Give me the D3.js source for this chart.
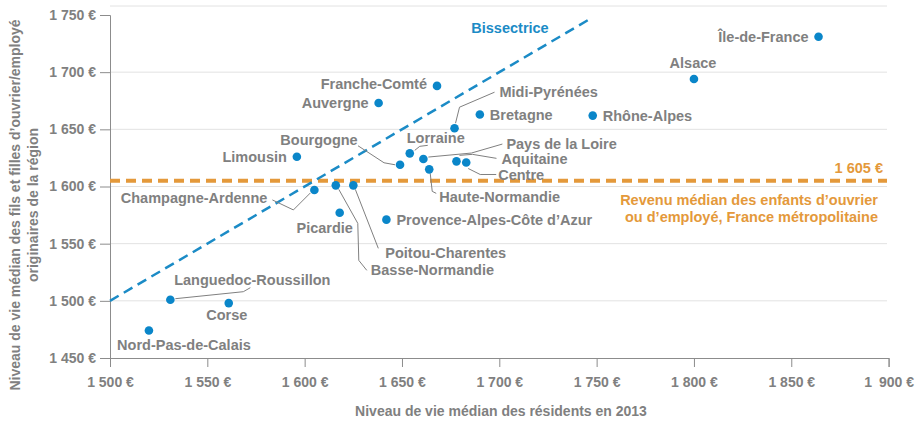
<!DOCTYPE html>
<html>
<head>
<meta charset="utf-8">
<script src="https://cdn.jsdelivr.net/npm/d3@7"></script>
<style>
  body { margin: 0; background: #fff; }
  text { font-family: "Liberation Sans", Arial, sans-serif; font-weight: bold; }
</style>
</head>
<body>
<div id="chart"></div>
<script>
// ---------------- data ----------------
const regions = [
  'Île-de-France', 'Alsace', 'Rhône-Alpes', 'Bretagne', 'Midi-Pyrénées',
  'Franche-Comté', 'Auvergne', 'Limousin', 'Bourgogne', 'Lorraine',
  'Pays de la Loire', 'Haute-Normandie', 'Aquitaine', 'Centre',
  'Champagne-Ardenne', 'Basse-Normandie', 'Poitou-Charentes', 'Picardie',
  'Provence-Alpes-Côte d\u2019Azur', 'Languedoc-Roussillon', 'Corse', 'Nord-Pas-de-Calais'
];
// niveau de vie médian des résidents en 2013
const residentValues = [
  1864, 1800, 1748, 1690, 1677,
  1668, 1638, 1596, 1649, 1654,
  1661, 1664, 1678, 1683,
  1605, 1616, 1625, 1618,
  1642, 1531, 1561, 1520
];
// niveau de vie médian des enfants d'ouvrier/employé originaires de la région
const childValues = [
  1731, 1694, 1662, 1663, 1651,
  1688, 1673, 1626, 1619, 1629,
  1624, 1615, 1622, 1621,
  1597, 1601, 1601, 1577,
  1571, 1501, 1498, 1474
];
const xTicks = [1500, 1550, 1600, 1650, 1700, 1750, 1800, 1850, 1900];
const xTickLabels = ['1 500 €', '1 550 €', '1 600 €', '1 650 €', '1 700 €', '1 750 €', '1 800 €', '1 850 €', '1\u2002900 €'];
const yTicks = [1450, 1500, 1550, 1600, 1650, 1700, 1750];
const yTickLabels = ['1 450 €', '1 500 €', '1 550 €', '1 600 €', '1 650 €', '1 700 €', '1 750 €'];
const gridValues = [1500, 1550, 1600, 1650, 1700];
const bissectrice = [1500, 1747];
const medianValue = 1605;

// label placement (pixel offsets from the point) and leader lines
const labelLayout = {
  'Île-de-France': { a: 'end', dx: -10, dy: 0 },
  'Alsace': { a: 'middle', dx: -1, dy: -16 },
  'Rhône-Alpes': { a: 'start', dx: 10, dy: 0 },
  'Bretagne': { a: 'start', dx: 10, dy: 0 },
  'Midi-Pyrénées': { a: 'start', dx: 45, dy: -36, lead: [[1, -5], [5, -21], [40, -36]] },
  'Franche-Comté': { a: 'end', dx: -10, dy: -2 },
  'Auvergne': { a: 'end', dx: -10, dy: 0 },
  'Limousin': { a: 'end', dx: -10, dy: 0 },
  'Bourgogne': { a: 'middle', dx: -81, dy: -25, lead: [[-5, 0], [-16, -2], [-42, -19]] },
  'Lorraine': { a: 'middle', dx: 26, dy: -15, lead: [[5, -3], [10, -7], [18, -8]] },
  'Pays de la Loire': { a: 'start', dx: 83, dy: -15, lead: [[5, -2], [48, -6], [79, -15]] },
  'Haute-Normandie': { a: 'start', dx: 10, dy: 28, lead: [[1, 4], [3, 22], [7, 24]] },
  'Aquitaine': { a: 'start', dx: 45, dy: -2, lead: [[3, -6], [16, -7], [40, -3]] },
  'Centre': { a: 'start', dx: 32, dy: 12, lead: [[2, 6], [14, 12], [30, 12]] },
  'Champagne-Ardenne': { a: 'end', dx: -47, dy: 8, lead: [[-4, 3], [-21, 20], [-42, 10]] },
  'Basse-Normandie': { a: 'start', dx: 35, dy: 85, lead: [[3, 4], [22, 38], [23, 75], [31, 85]] },
  'Poitou-Charentes': { a: 'start', dx: 32, dy: 68, lead: [[2, 4], [25, 63]] },
  'Picardie': { a: 'middle', dx: -15, dy: 15 },
  'Provence-Alpes-Côte d\u2019Azur': { a: 'start', dx: 10, dy: 0 },
  'Languedoc-Roussillon': { a: 'middle', dx: 82, dy: -20, lead: [[5, -1], [73, -8], [80, -12]] },
  'Corse': { a: 'middle', dx: -2, dy: 12 },
  'Nord-Pas-de-Calais': { a: 'middle', dx: 35, dy: 14 }
};

const colors = {
  text: '#808080',
  axis: '#8c8c8c',
  grid: '#e2e2e2',
  dot: '#0a86c9',
  bis: '#1b8bc6',
  orange: '#e4993b'
};
const fontSize = '14.5px';

const width = 920, height = 429;
const x = d3.scaleLinear().domain([1500, 1900]).range([110, 888.6]);
const y = d3.scaleLinear().domain([1450, 1750]).range([358, 15]);

const svg = d3.select('#chart').append('svg')
  .attr('width', width)
  .attr('height', height);

//------------------ grid ------------------
svg.append('line')
  .attr('x1', x(1500)).attr('x2', 887)
  .attr('y1', 6).attr('y2', 6)
  .attr('stroke', colors.grid);
svg.append('g').selectAll('line')
  .data(gridValues).enter().append('line')
  .attr('x1', x(1500)).attr('x2', 887)
  .attr('y1', d => y(d)).attr('y2', d => y(d))
  .attr('stroke', colors.grid);

//------------------ axes ------------------
const xAxis = d3.axisBottom(x).tickValues(xTicks)
  .tickFormat((d, i) => xTickLabels[i]).tickSize(9).tickPadding(10);
const xg = svg.append('g').attr('transform', 'translate(0,' + y(1450) + ')').call(xAxis);
xg.select('.domain').attr('stroke', colors.axis);
xg.selectAll('line').attr('stroke', colors.axis);
xg.selectAll('text').attr('fill', colors.text).style('font-size', '14px');

const yAxis = d3.axisLeft(y).tickValues(yTicks)
  .tickFormat((d, i) => yTickLabels[i]).tickSize(10).tickPadding(4);
const yg = svg.append('g').attr('transform', 'translate(' + x(1500) + ',0)').call(yAxis);
yg.select('.domain').attr('stroke', colors.axis);
yg.selectAll('line').attr('stroke', colors.axis);
yg.selectAll('text').attr('fill', colors.text).style('font-size', '14px');

// axis titles
svg.append('text')
  .attr('x', 501).attr('y', 416)
  .attr('text-anchor', 'middle')
  .attr('fill', colors.text).style('font-size', '14px')
  .text('Niveau de vie médian des résidents en 2013');

const yTitle = svg.append('text')
  .attr('transform', 'translate(15,205) rotate(-90)')
  .attr('text-anchor', 'middle')
  .attr('fill', colors.text).style('font-size', '14px');
yTitle.append('tspan').attr('x', 0).attr('dy', '0.35em')
  .text('Niveau de vie médian des fils et filles d\u2019ouvrier/employé');
yTitle.append('tspan').attr('x', 0).attr('dy', '1.3em')
  .text('originaires de la région');

//------------------ reference lines ------------------
svg.append('line')
  .attr('x1', x(1500)).attr('x2', 887)
  .attr('y1', y(medianValue)).attr('y2', y(medianValue))
  .attr('stroke', colors.orange)
  .attr('stroke-width', 4)
  .attr('stroke-dasharray', '10,6');

svg.append('line')
  .attr('x1', x(bissectrice[0])).attr('y1', y(bissectrice[0]))
  .attr('x2', x(bissectrice[1])).attr('y2', y(bissectrice[1]))
  .attr('stroke', colors.bis)
  .attr('stroke-width', 2.5)
  .attr('stroke-dasharray', '10,6');

svg.append('text')
  .attr('x', 510).attr('y', 28).attr('dy', '0.35em')
  .attr('text-anchor', 'middle')
  .attr('fill', colors.bis).style('font-size', fontSize)
  .text('Bissectrice');

svg.append('text')
  .attr('x', 883).attr('y', y(medianValue) - 13).attr('dy', '0.35em')
  .attr('text-anchor', 'end')
  .attr('fill', colors.orange).style('font-size', fontSize)
  .text('1 605 €');
const medLabel = svg.append('text')
  .attr('text-anchor', 'end')
  .attr('fill', colors.orange).style('font-size', fontSize);
medLabel.append('tspan').attr('x', 878).attr('y', y(medianValue) + 19).attr('dy', '0.35em')
  .text('Revenu médian des enfants d\u2019ouvrier');
medLabel.append('tspan').attr('x', 878).attr('y', y(medianValue) + 36).attr('dy', '0.35em')
  .text('ou d\u2019employé, France métropolitaine');

//------------------ points ------------------
const data = regions.map((name, i) => ({ name: name, xv: residentValues[i], yv: childValues[i] }));

const leaders = svg.append('g');
data.forEach(d => {
  const l = labelLayout[d.name];
  if (!l.lead) return;
  const px = x(d.xv), py = y(d.yv);
  leaders.append('polyline')
    .attr('points', l.lead.map(p => (px + p[0]) + ',' + (py + p[1])).join(' '))
    .attr('fill', 'none')
    .attr('stroke', colors.text)
    .attr('stroke-width', 1);
});

svg.append('g').selectAll('circle')
  .data(data).enter().append('circle')
  .attr('cx', d => x(d.xv))
  .attr('cy', d => y(d.yv))
  .attr('r', 4.3)
  .attr('fill', colors.dot);

svg.append('g').selectAll('text')
  .data(data).enter().append('text')
  .attr('x', d => x(d.xv) + labelLayout[d.name].dx)
  .attr('y', d => y(d.yv) + labelLayout[d.name].dy)
  .attr('dy', '0.35em')
  .attr('text-anchor', d => labelLayout[d.name].a)
  .attr('fill', colors.text)
  .style('font-size', fontSize)
  .text(d => d.name);
</script>
</body>
</html>
